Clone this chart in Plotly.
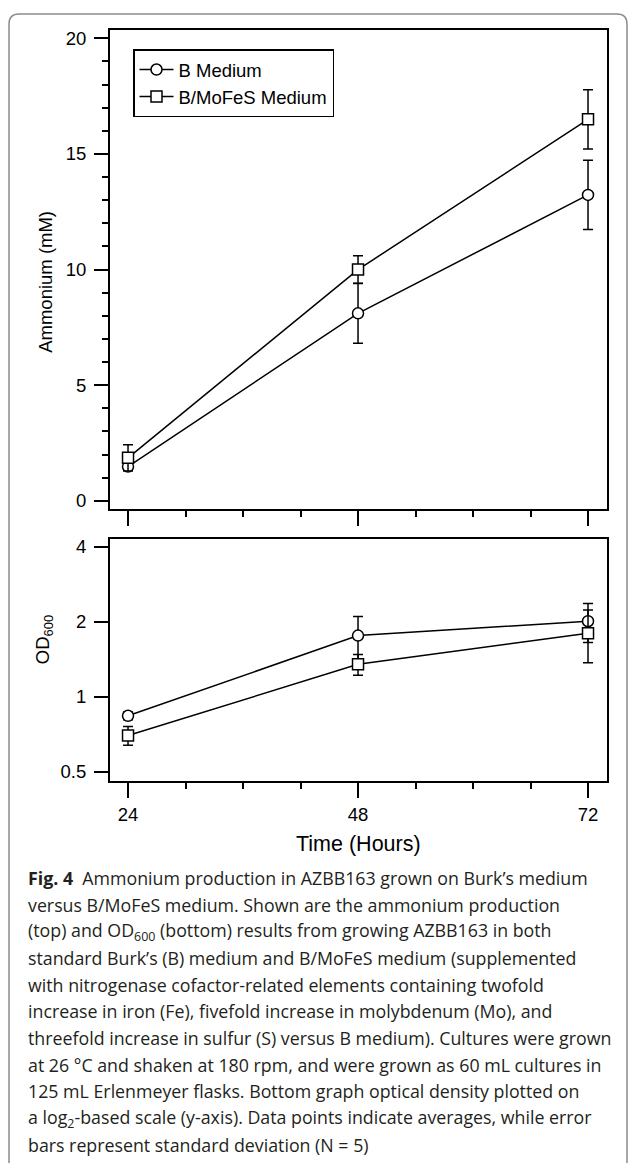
import plotly.graph_objects as go

W, H = 629, 1163

hours = [24, 48, 72]
series_names = ["B Medium", "B/MoFeS Medium"]
amm_b = [1.48, 8.11, 13.23]
amm_b_sd = [0.15, 1.30, 1.50]
amm_m = [1.86, 10.0, 16.5]
amm_m_sd = [0.57, 0.60, 1.28]
od_b = [0.84, 1.76, 2.01]
od_b_sd = [0.03, 0.34, 0.36]
od_m = [0.70, 1.35, 1.80]
od_m_sd = [0.06, 0.13, 0.43]
od_ticks = [0.5, 1, 2, 4]

caption_lines = [
    "<b>Fig. 4</b>  Ammonium production in AZBB163 grown on Burk’s medium",
    "versus B/MoFeS medium. Shown are the ammonium production",
    "(top) and OD<sub>600</sub> (bottom) results from growing AZBB163 in both",
    "standard Burk’s (B) medium and B/MoFeS medium (supplemented",
    "with nitrogenase cofactor-related elements containing twofold",
    "increase in iron (Fe), fivefold increase in molybdenum (Mo), and",
    "threefold increase in sulfur (S) versus B medium). Cultures were grown",
    "at 26 °C and shaken at 180 rpm, and were grown as 60 mL cultures in",
    "125 mL Erlenmeyer flasks. Bottom graph optical density plotted on",
    "a log<sub>2</sub>-based scale (y-axis). Data points indicate averages, while error",
    "bars represent standard deviation (N = 5)",
]


def px(x):
    return x / W


def py(y):
    return 1 - y / H


AX = "Liberation Sans, Arial, Helvetica, sans-serif"
CAP = "Open Sans, Noto Sans, sans-serif"

fig = go.Figure()

marker_common = dict(size=11, color="white", line=dict(color="black", width=1.5))
err_common = dict(type="data", visible=True, color="black", thickness=1.5, width=5)

for xa, ya, vals, sds, sym, name, show in [
    ("x", "y", amm_b, amm_b_sd, "circle", series_names[0], True),
    ("x", "y", amm_m, amm_m_sd, "square", series_names[1], True),
    ("x2", "y2", od_b, od_b_sd, "circle", series_names[0], False),
    ("x2", "y2", od_m, od_m_sd, "square", series_names[1], False),
]:
    fig.add_trace(go.Scatter(
        x=hours, y=vals, xaxis=xa, yaxis=ya, name=name, showlegend=show,
        mode="lines+markers",
        line=dict(color="black", width=1.5),
        marker=dict(symbol=sym, **marker_common),
        error_y=dict(array=sds, **err_common),
    ))

xcommon = dict(
    domain=[px(110), px(607)], range=[22.12, 73.98],
    tickmode="linear", tick0=24, dtick=24,
    ticks="outside", ticklen=15, tickwidth=1.8, tickcolor="black",
    showline=True, mirror=True, linecolor="black", linewidth=2,
    showgrid=False, zeroline=False,
    minor=dict(tickmode="linear", tick0=24, dtick=6, ticks="outside",
               ticklen=6, tickwidth=1.5, tickcolor="black", showgrid=False),
    tickfont=dict(family=AX, size=18.5, color="black"),
)

fig.update_layout(
    width=W, height=H,
    margin=dict(l=0, r=0, t=0, b=0),
    paper_bgcolor="white", plot_bgcolor="white",
    xaxis=dict(anchor="y", showticklabels=False, **xcommon),
    xaxis2=dict(anchor="y2", showticklabels=True, ticklabelstandoff=1, **xcommon),
    yaxis=dict(
        anchor="x", domain=[py(508), py(26.7)], range=[-0.345, 20.38],
        tickmode="linear", tick0=0, dtick=5,
        ticks="outside", ticklen=14, tickwidth=1.8, tickcolor="black",
        showline=True, mirror=True, linecolor="black", linewidth=2,
        showgrid=False, zeroline=False, ticklabelstandoff=4,
        minor=dict(tickmode="linear", tick0=0, dtick=1, ticks="outside",
                   ticklen=6, tickwidth=1.5, tickcolor="black", showgrid=False),
        tickfont=dict(family=AX, size=18.5, color="black"),
    ),
    yaxis2=dict(
        anchor="x2", type="log", domain=[py(781), py(538)], range=[-0.3357, 0.634],
        tickmode="array", tickvals=od_ticks, ticktext=[str(v) for v in od_ticks],
        ticks="outside", ticklen=14, tickwidth=1.8, tickcolor="black",
        showline=True, mirror=True, linecolor="black", linewidth=2,
        showgrid=False, zeroline=False, ticklabelstandoff=4,
        tickfont=dict(family=AX, size=18.5, color="black"),
    ),
    legend=dict(
        x=px(133), y=py(46.7), xanchor="left", yanchor="top",
        bgcolor="white", bordercolor="black", borderwidth=1.5,
        font=dict(family=AX, size=18.5, color="black"),
        tracegroupgap=0, itemwidth=34,
    ),
    showlegend=True,
)

annotations = [
    dict(text="Ammonium (mM)", x=px(46), y=py(280), textangle=-90,
         font=dict(family=AX, size=18.5, color="black")),
    dict(text="OD<sub>600</sub>", x=px(44), y=py(640), textangle=-90,
         font=dict(family=AX, size=18.5, color="black")),
    dict(text="Time (Hours)", x=px(358), y=py(845),
         font=dict(family=AX, size=21.5, color="black")),
]
for i, line in enumerate(caption_lines):
    annotations.append(dict(
        text=line, x=px(26), y=py(879 + i * 26.77), xanchor="left",
        font=dict(family=CAP, size=17.8, color="#231f20"),
    ))
for a in annotations:
    a.setdefault("xanchor", "center")
    a.update(xref="paper", yref="paper", showarrow=False, yanchor="middle")
fig.update_layout(annotations=annotations)

# card border (rounded corner at top)
L, T, R, B, r = 9, 11, 627, 1178, 10
path = (f"M {px(L)},{py(B)} L {px(L)},{py(T + r)} Q {px(L)},{py(T)} {px(L + r)},{py(T)} "
        f"L {px(R - r)},{py(T)} Q {px(R)},{py(T)} {px(R)},{py(T + r)} L {px(R)},{py(B)}")
fig.add_shape(type="path", path=path, xref="paper", yref="paper",
              line=dict(color="#8c8c8c", width=1.5), layer="below")

fig.write_html("out.html")
